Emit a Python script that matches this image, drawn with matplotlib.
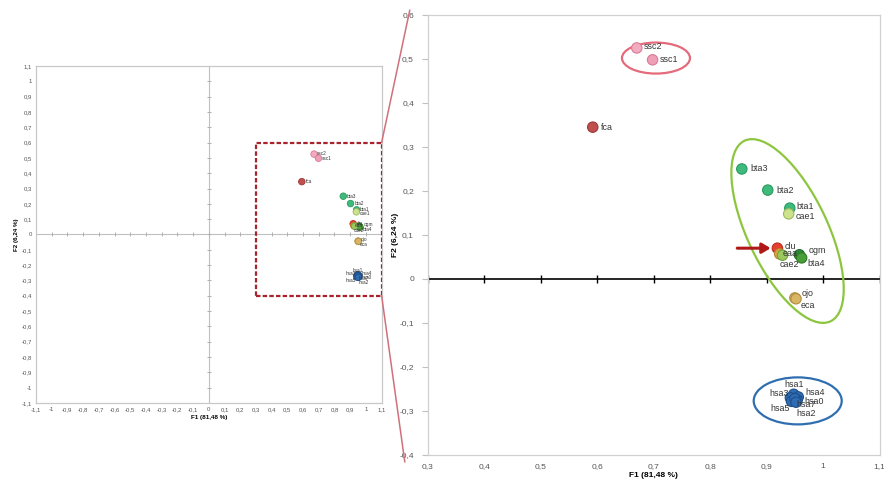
import numpy as np
import matplotlib.pyplot as plt
from matplotlib.patches import Ellipse, Rectangle, ConnectionPatch
from matplotlib.transforms import ScaledTranslation

plt.rcParams['font.family'] = ['Liberation Sans', 'DejaVu Sans']

# observations on the first two factors
names = ['ssc2', 'ssc1', 'fca', 'bta3', 'bta2', 'bta1', 'cae1', 'clu', 'eaa',
         'ogm', 'bta4', 'cae2', 'ojo', 'eca',
         'hsa1', 'hsa3', 'hsa4', 'hsa0', 'hsa5', 'hsa7', 'hsa2']
f1 = [0.670, 0.698, 0.592, 0.856, 0.902, 0.941, 0.939, 0.919, 0.923,
      0.958, 0.962, 0.928, 0.950, 0.952,
      0.948, 0.942, 0.956, 0.954, 0.944, 0.950, 0.952]
f2 = [0.525, 0.498, 0.345, 0.250, 0.202, 0.161, 0.148, 0.070, 0.057,
      0.055, 0.048, 0.054, -0.043, -0.045,
      -0.262, -0.270, -0.268, -0.275, -0.278, -0.272, -0.280]
face = ['#f3abc0', '#ef9fb8', '#c0504d', '#3dba7c', '#3dba7c', '#3dba7c', '#cde28f',
        '#e8402f', '#e0a748', '#2f8a3a', '#4a9e3a', '#9cc95e', '#d9b565', '#d9b565',
        '#2e6db4', '#2e6db4', '#2e6db4', '#2e6db4', '#2e6db4', '#2e6db4', '#2e6db4']
edge = ['#d87b96', '#d87b96', '#9c3835', '#2b9a5f', '#2b9a5f', '#2b9a5f', '#9bbb59',
        '#b82a1e', '#b8832c', '#1f6a2a', '#2f7a25', '#6f9f40', '#b08f40', '#b08f40',
        '#1f4f8a', '#1f4f8a', '#1f4f8a', '#1f4f8a', '#1f4f8a', '#1f4f8a', '#1f4f8a']
# label offsets in points (dx, dy, horizontal alignment)
offs = [(5, 1, 'left'), (5, 0, 'left'), (6, 0, 'left'), (6, 0, 'left'), (6, 0, 'left'),
        (5, 1, 'left'), (5, -2, 'left'), (5, 1, 'left'), (2, 0, 'left'),
        (7, 3, 'left'), (4, -4, 'left'), (-2, -7, 'left'), (5, 3, 'left'), (3, -5, 'left'),
        (0, 7, 'center'), (-1, 3, 'right'), (5, 3, 'left'), (5, -1, 'left'),
        (-1, -5, 'right'), (1, -4, 'left'), (0, -8, 'left')]

xlab = 'F1 (81,48 %)'
ylab = 'F2 (6,24 %)'


def fmt(v):
    v = round(v, 1)
    if v == 0:
        return '0'
    return ('%g' % v).replace('.', ',')


fig = plt.figure(figsize=(8.84, 4.82), dpi=100)
ax1 = fig.add_axes([0.0407, 0.164, 0.391, 0.699])
ax2 = fig.add_axes([0.484, 0.056, 0.511, 0.913])

# ---- full factor map ----
t1 = np.arange(-1.1, 1.101, 0.1)
ax1.set_xlim(-1.1, 1.1)
ax1.set_ylim(-1.1, 1.1)
ax1.set_xticks(t1)
ax1.set_yticks(t1)
ax1.set_xticklabels([fmt(v) for v in t1])
ax1.set_yticklabels([fmt(v) for v in t1])
ax1.tick_params(length=0, labelsize=4.3, colors='#555555', pad=3)
for s in ax1.spines.values():
    s.set_color('#c8c8c8')
    s.set_linewidth(0.9)
ax1.axhline(0, color='#c0c0c0', lw=0.8, zorder=1)
ax1.axvline(0, color='#c0c0c0', lw=0.8, zorder=1)
ax1.plot(t1, np.zeros_like(t1), '|', color='#b0b0b0', ms=3, mew=0.7, zorder=1)
ax1.plot(np.zeros_like(t1), t1, '_', color='#b0b0b0', ms=3, mew=0.7, zorder=1)
ax1.scatter(f1, f2, s=22, c=face, edgecolors=edge, linewidths=0.6, zorder=3)
for n, x, y, o in zip(names, f1, f2, offs):
    ax1.annotate(n, (x, y), xytext=(o[0] * 0.45, o[1] * 0.45), textcoords='offset points',
                 fontsize=3.4, ha=o[2], va='center', color='#333333', zorder=4)
ax1.add_patch(Rectangle((0.3, -0.4), 0.8, 1.0, fill=False, ec='#a8242c',
                        ls=(0, (2, 1)), lw=1.6, zorder=5))
ax1.set_xlabel(xlab, fontsize=4.5, fontweight='bold', labelpad=2)
ax1.set_ylabel(ylab, fontsize=4.5, fontweight='bold', labelpad=2)

# ---- zoomed region ----
tx = np.arange(0.3, 1.101, 0.1)
ty = np.arange(-0.4, 0.601, 0.1)
ax2.set_xlim(0.3, 1.1)
ax2.set_ylim(-0.4, 0.6)
ax2.set_xticks(tx)
ax2.set_yticks(ty)
ax2.set_xticklabels([fmt(v) for v in tx])
ax2.set_yticklabels([fmt(v) for v in ty])
ax2.tick_params(axis='x', length=0, labelsize=6, colors='#555555', pad=6)
ax2.tick_params(axis='y', length=4, width=0.8, color='#c0c0c0', labelsize=6,
                labelcolor='#555555', pad=6)
for s in ax2.spines.values():
    s.set_color('#d0d0d0')
    s.set_linewidth(0.9)
ax2.axhline(0, color='black', lw=1.2, zorder=1)
ax2.plot(tx, np.zeros_like(tx), '|', color='black', ms=6, mew=1.0, zorder=1)
ax2.scatter(f1, f2, s=56, c=face, edgecolors=edge, linewidths=0.8, zorder=3)
for n, x, y, o in zip(names, f1, f2, offs):
    ax2.annotate(n, (x, y), xytext=(o[0], o[1]), textcoords='offset points',
                 fontsize=6.4, ha=o[2], va='center', color='#333333', zorder=4)
ax2.set_xlabel(xlab, fontsize=6, fontweight='bold', labelpad=1)
ax2.set_ylabel(ylab, fontsize=6, fontweight='bold', labelpad=0)


# group outlines, sized in inches around a data-space centre
def group_ellipse(ax, cx, cy, w, h, ang, col):
    tr = fig.dpi_scale_trans + ScaledTranslation(cx, cy, ax.transData)
    ax.add_patch(Ellipse((0, 0), w, h, angle=ang, transform=tr, fill=False,
                         ec=col, lw=1.6, zorder=2))


group_ellipse(ax2, 0.704, 0.502, 0.68, 0.31, 0, '#e56b7c')
group_ellipse(ax2, 0.937, 0.109, 2.0, 0.8, -64.5, '#8cc63f')
group_ellipse(ax2, 0.955, -0.277, 0.88, 0.47, 0, '#2f6fb0')

ax2.annotate('', xy=(0.912, 0.070), xytext=(0.843, 0.070),
             arrowprops=dict(arrowstyle='-|>,head_length=0.5,head_width=0.3',
                             color='#b01818', lw=2.2), zorder=5)

# lines tying the dashed box to the zoomed panel
for ya, pb in [(0.6, (-0.04, 1.011)), (-0.4, (-0.051, -0.016))]:
    cp = ConnectionPatch(xyA=(1.1, ya), coordsA=ax1.transData,
                         xyB=pb, coordsB=ax2.transAxes,
                         color='#d0707c', lw=1.1)
    fig.add_artist(cp)

fig.savefig('out.png', dpi=100)
